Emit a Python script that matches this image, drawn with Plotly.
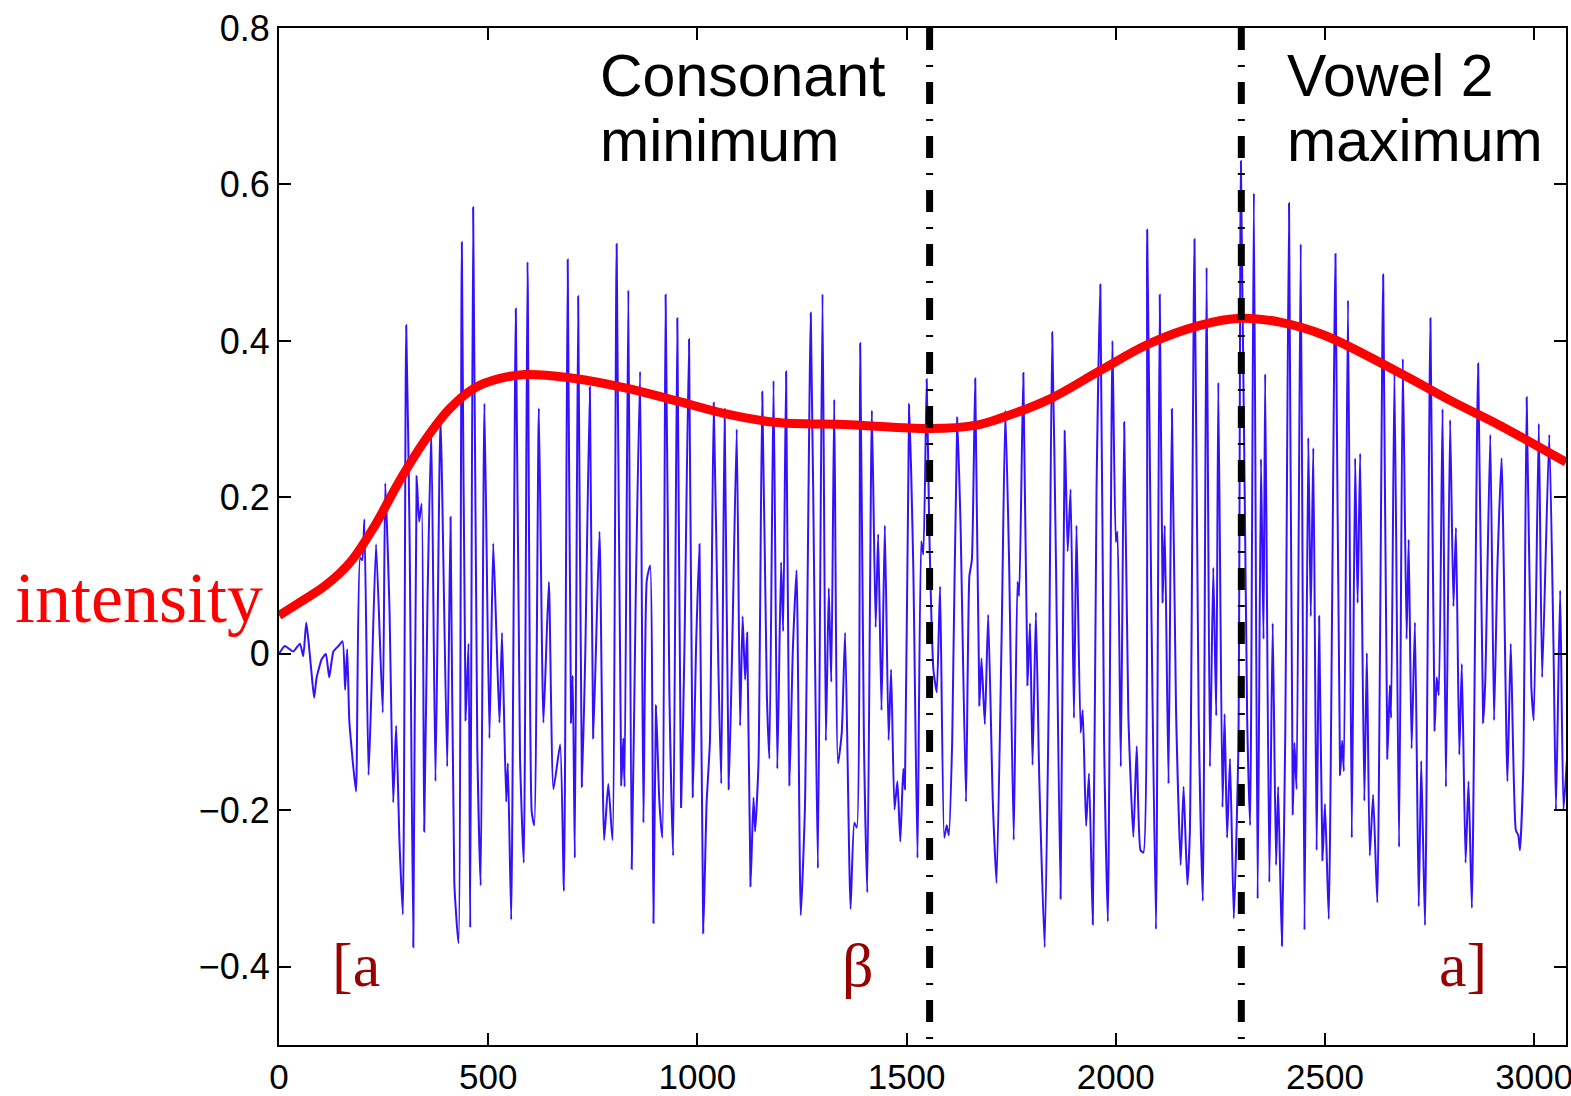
import plotly.graph_objects as go

# speech waveform (turning points)
wave_x = [0, 14, 34, 50, 58, 65, 70, 78, 84, 90, 102, 112, 120, 130, 142, 152, 158, 163, 168, 174, 184,
          194, 199, 204, 214, 221, 232, 248, 254, 264, 273, 280, 288, 296, 304, 312, 321, 329, 335, 341,
          347, 355, 364, 374, 386, 402, 410, 419, 429, 437, 446, 453, 457, 464, 474, 482, 491, 503,
          512, 520, 527, 533, 543, 547, 555, 566, 576, 585, 594, 604, 610, 621, 632, 645, 656, 672, 681,
          690, 698, 702, 707, 715, 724, 732, 743, 751, 766, 777, 787, 797, 807, 818, 823, 826, 835, 843,
          853, 863, 871, 879, 887, 895, 901, 909, 916, 924, 933, 942, 952, 961, 969, 980,
          989, 997, 1005, 1014, 1022, 1030, 1039, 1050, 1057, 1065, 1075, 1084, 1094, 1102, 1108, 1114,
          1119, 1127, 1134, 1138, 1146, 1155, 1166, 1172, 1182, 1191, 1200, 1205, 1212, 1220, 1228, 1237,
          1247, 1257, 1271, 1281, 1288, 1299, 1307, 1314, 1320, 1327, 1336, 1345, 1353, 1366, 1375, 1381,
          1389, 1398, 1406, 1417, 1426, 1432, 1440, 1448, 1457, 1463, 1471, 1478, 1485, 1492, 1496, 1506,
          1516, 1526, 1535, 1540, 1548, 1554, 1559, 1564, 1572, 1580, 1590, 1596, 1601, 1609, 1621, 1629,
          1642, 1650, 1656, 1664, 1674, 1679, 1687, 1695, 1706, 1715, 1727, 1736, 1745, 1756, 1765, 1769,
          1779, 1789, 1795, 1801, 1809, 1817, 1830, 1840, 1848, 1857, 1868, 1878, 1885, 1892, 1900, 1906,
          1916, 1921, 1929, 1936, 1945, 1954, 1963, 1972, 1981, 1992, 2000, 2004, 2012,
          2020, 2030, 2042, 2050, 2059, 2066, 2075, 2085, 2096, 2105, 2112, 2117, 2126, 2134, 2144, 2155,
          2162, 2171, 2177, 2188, 2198, 2208, 2217, 2225, 2233, 2240, 2245, 2255, 2260, 2266, 2273, 2282,
          2293, 2299, 2314, 2321, 2330, 2339, 2347, 2353, 2357, 2367, 2375, 2383, 2388, 2397, 2405, 2414,
          2423, 2427, 2432, 2442, 2451, 2460, 2466, 2472, 2480, 2486, 2494, 2500, 2509,
          2525, 2536, 2541, 2545, 2555, 2564, 2572, 2578, 2584, 2594, 2600, 2607, 2615, 2625, 2639, 2649,
          2655, 2658, 2666, 2677, 2686, 2695, 2700, 2707, 2715, 2724, 2730, 2739, 2752, 2762, 2767, 2772,
          2781, 2789, 2799, 2807, 2813, 2821, 2827, 2836, 2843, 2851, 2866, 2878, 2883, 2895, 2904, 2912,
          2922, 2936, 2944, 2956, 2962, 2966, 2974, 2982, 2993, 2999, 3011, 3019, 3036, 3046, 3052, 3062,
          3070, 3078]
wave_y = [0.0, 0.01, 0.003, 0.013, -0.003, 0.04, 0.019, -0.026, -0.056, -0.03, -0.007, 0.0, -0.03, 0.003,
          0.01, 0.016, -0.046, 0.006, -0.085, -0.124, -0.176,
          0.123, 0.12, 0.172, -0.155, -0.046, 0.14, -0.075, 0.218, 0.058, -0.19, -0.092, -0.241, -0.333,
          0.42, 0.156, -0.375, 0.227, 0.169, 0.192,
          -0.227, 0.071, 0.287, -0.163, 0.302, -0.144, 0.175, -0.293, -0.37, 0.526, -0.085, 0.013, -0.35,
          0.571, -0.12, -0.296, 0.32, -0.108,
          0.141, 0.019, -0.088, 0.027, -0.189, -0.14, -0.34, 0.441, -0.131, -0.267, 0.501, -0.202, -0.219,
          0.314, -0.088, 0.092, -0.173, -0.116, -0.303,
          0.504, -0.088, -0.028, -0.261, 0.457, -0.17, 0.0, 0.341, -0.108, 0.156, -0.238, -0.166, -0.238,
          0.524, -0.168, -0.108, -0.17, 0.465, -0.275,
          0.088, 0.361, -0.216, 0.094, 0.113, -0.344, -0.066, -0.188, -0.235, 0.459, -0.049, -0.258,
          0.429, -0.197, 0.006, 0.402,
          -0.183, 0.013, 0.14, -0.357, -0.19, -0.111, 0.321, -0.013, -0.166, 0.313, -0.173, 0.03, 0.287,
          -0.092, 0.048, -0.033,
          0.027, -0.297, -0.184, -0.227, -0.14, 0.335, -0.053, -0.134, 0.349, -0.147, 0.117, 0.029, 0.361,
          -0.168, 0.003, 0.107,
          -0.334, -0.196, 0.436, 0.0, -0.274, 0.46, -0.111, 0.084, -0.036, 0.325, -0.14, -0.101, 0.027,
          -0.326, -0.216, -0.222,
          0.397, -0.111, -0.305, 0.311, 0.034, 0.153, -0.072, 0.164, -0.11, -0.02, -0.199, -0.163, -0.24,
          -0.147, -0.173, 0.319,
          0.11, -0.261, 0.144, 0.127, 0.351, 0.163, 0.052, -0.02, -0.049, 0.086, -0.235, -0.219, -0.232,
          -0.111, 0.302, 0.163,
          -0.189, 0.099, 0.12, 0.352, -0.066, -0.006, -0.09, 0.05, -0.188, -0.293, 0.019, 0.311, 0.117,
          -0.238, 0.092, 0.074,
          0.359, -0.04, 0.039, -0.142, 0.053, -0.157, -0.375, -0.046, 0.411, 0.117, -0.313, 0.285, 0.131,
          0.21, -0.082, 0.164,
          -0.101, -0.072, -0.22, -0.153, -0.346, 0.211, 0.472, -0.111, -0.342, 0.4, 0.143, 0.156, -0.144,
          0.296, -0.079, -0.234, -0.118, -0.251, -0.254, 0.542, 0.058, -0.352, 0.459, 0.066, 0.164, -0.166,
          0.313, -0.072, -0.27,
          -0.17, -0.295, -0.228, 0.53, -0.077, -0.316, 0.494, -0.144, 0.11, -0.079, 0.347, -0.196, -0.077,
          -0.235, -0.134, -0.338,
          -0.118, 0.63, -0.085, -0.219, 0.589, -0.313, 0.249, 0.019, 0.358, -0.292, 0.039, -0.27, -0.17,
          -0.373, -0.105, 0.576,
          -0.205, -0.114, -0.173, 0.524, -0.353, 0.276, 0.048, 0.263, -0.251, 0.048, -0.264, -0.192, -0.339,
          0.511, -0.155, -0.111, -0.15, 0.452, -0.235, 0.25, 0.065, 0.256, -0.188, 0.001, -0.258, -0.18,
          -0.318, 0.485, -0.134,
          -0.04, -0.082, 0.363, -0.247, 0.377, 0.019, 0.146, -0.121, 0.04, -0.323, -0.137, -0.347, 0.429,
          -0.098, -0.03, -0.053,
          0.313, -0.17, 0.299, 0.061, 0.161, -0.129, -0.013, -0.267, -0.163, -0.325, 0.371, -0.088, -0.036,
          0.28, -0.085, 0.11,
          0.25, -0.163, 0.013, -0.225, -0.232, -0.251, -0.144, 0.328, -0.04, -0.085, 0.294, -0.03, 0.28,
          0.013, -0.199, 0.081,
          -0.199, -0.137]

# smoothed intensity contour
int_x = [0, 50, 110, 170, 229, 289, 349, 409, 468, 528, 588, 707, 827, 946, 1066, 1185, 1365, 1556,
         1663, 1723, 1843, 1962, 2082, 2201, 2297, 2392, 2500, 2679, 2799, 2918, 3076]
int_y = [0.049, 0.066, 0.087, 0.117, 0.164, 0.222, 0.273, 0.314, 0.340, 0.352, 0.357, 0.352, 0.340,
         0.324, 0.307, 0.296, 0.293, 0.288, 0.292, 0.301, 0.326, 0.362, 0.397, 0.420, 0.429, 0.424,
         0.407, 0.359, 0.324, 0.292, 0.245]

landmarks = [1555, 2300]
x_ticks = [0, 500, 1000, 1500, 2000, 2500, 3000]
y_ticks = [-0.4, -0.2, 0, 0.2, 0.4, 0.6, 0.8]
y_labels = ["\u22120.4", "\u22120.2", "0", "0.2", "0.4", "0.6", "0.8"]

fig = go.Figure()
fig.add_trace(go.Scatter(x=wave_x, y=wave_y, mode="lines",
                         line=dict(color="#3311ff", width=2, shape="spline", smoothing=0.5)))
fig.add_trace(go.Scatter(x=int_x, y=int_y, mode="lines",
                         line=dict(color="#ff0000", width=9, shape="spline", smoothing=1)))

for xv in landmarks:
    fig.add_shape(type="line", x0=xv, x1=xv, y0=1, y1=0, xref="x", yref="paper",
                  line=dict(color="black", width=7, dash="22px,15px,2px,15px"))

sans = "Liberation Sans, Arial, sans-serif"
serif = "Liberation Serif, Times New Roman, serif"
dark_red = "#990000"

labels = [("Consonant", 762, 0.953), ("minimum", 762, 0.889),
          ("Vowel 2", 2404, 0.953), ("maximum", 2404, 0.889)]
for txt, xv, yv in labels:
    fig.add_annotation(text=txt, x=xv, y=yv, xref="x", yref="paper", xanchor="left",
                       yanchor="middle", showarrow=False, font=dict(family=sans, size=59, color="black"))

for txt, xv in [("[a", 122), ("\u03b2", 1341), ("a]", 2768)]:
    fig.add_annotation(text=txt, x=xv, y=0.079, xref="x", yref="paper", xanchor="left",
                       yanchor="middle", showarrow=False, font=dict(family=serif, size=62, color=dark_red))

fig.add_annotation(text="intensity", x=-0.011, y=0.44, xref="paper", yref="paper",
                   xanchor="right", yanchor="middle", showarrow=False,
                   font=dict(family=serif, size=72, color="#ff0000"))

axis_common = dict(showline=True, linecolor="black", linewidth=2, mirror="allticks",
                   ticks="inside", ticklen=12, tickwidth=1.5, tickcolor="black",
                   showgrid=False, zeroline=False, automargin=False, ticklabeloverflow="allow")
fig.update_xaxes(range=[0, 3076], tickvals=x_ticks,
                 tickfont=dict(family=sans, size=35, color="black"), **axis_common)
fig.update_yaxes(range=[-0.5, 0.8], tickvals=y_ticks, ticktext=y_labels,
                 tickfont=dict(family=sans, size=36, color="black"), **axis_common)

fig.update_layout(width=1571, height=1096, showlegend=False,
                  plot_bgcolor="white", paper_bgcolor="white",
                  margin=dict(l=279, r=5, t=28, b=51))

# drop the default page margin so the figure sits at the window's top-left corner
fig.write_html("out.html", config={"displayModeBar": False},
               post_script="document.body.style.margin='0';document.body.style.overflow='hidden';")
